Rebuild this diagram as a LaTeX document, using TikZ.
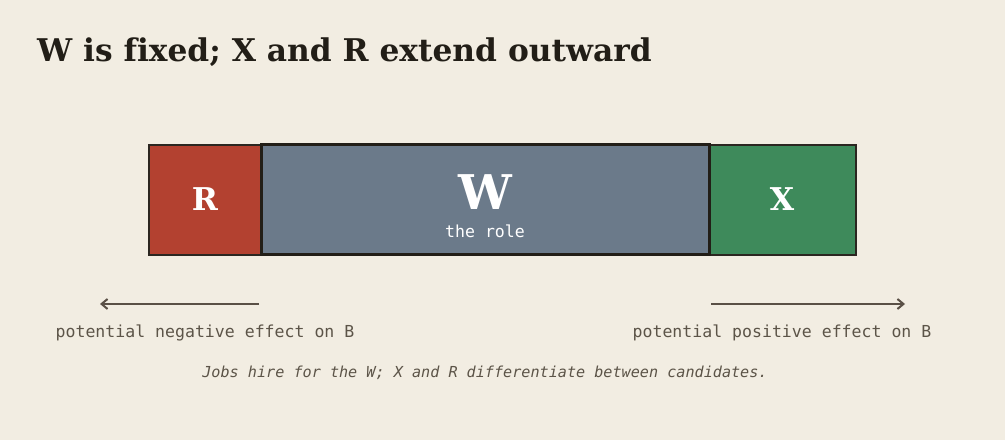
\documentclass[tikz,border=0pt]{standalone}
\usepackage{fontspec}
\newfontfamily\serifb{DejaVu Serif}[BoldFont={DejaVu Serif Bold},Ligatures=NoCommon]
\newfontfamily\monof{DejaVu Sans Mono}
\usetikzlibrary{arrows.meta}
\definecolor{bg}{HTML}{F2EDE2}
\definecolor{ink}{HTML}{221E17}
\definecolor{rfill}{HTML}{B34130}
\definecolor{wfill}{HTML}{6B7A8A}
\definecolor{xfill}{HTML}{3E8A5B}
\definecolor{edge}{HTML}{2B2620}
\definecolor{muted}{HTML}{5C5448}
\definecolor{arrowc}{HTML}{5A5046}
\tikzset{
  bar/.style={draw=edge, line width=2bp, inner sep=0pt, outer sep=0pt},
  lbl/.style={text=white, font=\serifb\bfseries\fontsize{31.5}{31.5}\selectfont},
  note/.style={text=muted, font=\monof\fontsize{16.6}{18}\selectfont, inner sep=0pt},
  effect/.style={draw=arrowc, line width=2bp, -{Straight Barb[length=6bp,width=10bp]}}
}
\begin{document}
\begin{tikzpicture}[x=1bp,y=-1bp]
\useasboundingbox[fill=bg] (0,0) rectangle (1005,440);
\node[anchor=base west, inner sep=0pt, text=ink, font=\serifb\bfseries\fontsize{31.4}{31.4}\selectfont] (title) at (37,62) {W is fixed; X and R extend outward};
\path[bar, fill=rfill] (149,145) rectangle (261,255);
\path[bar, fill=xfill] (709,145) rectangle (856,255);
\path[bar, fill=wfill, draw=ink, line width=3bp] (261,145) rectangle (709,255);
\node[lbl] (R) at (205,199) {R};
\node[lbl] (X) at (782,199) {X};
\node[lbl, font=\serifb\bfseries\fontsize{48}{48}\selectfont] (W) at (485,192) {W};
\node[text=white, font=\monof\fontsize{16.6}{18}\selectfont, inner sep=0pt] (role) at (485,231) {the role};
\coordinate (la) at (259,304);
\coordinate (lb) at (100,304);
\coordinate (ra) at (711,304);
\coordinate (rb) at (905,304);
\draw[effect] (la) -- (lb);
\draw[effect] (ra) -- (rb);
\node[note] (neg) at (205,333) {potential negative effect on B};
\node[note] (pos) at (782,333) {potential positive effect on B};
\node[note, font=\monof\itshape\fontsize{15.2}{16}\selectfont] (cap) at (485,373) {Jobs hire for the W; X and R differentiate between candidates.};
\end{tikzpicture}
\end{document}
